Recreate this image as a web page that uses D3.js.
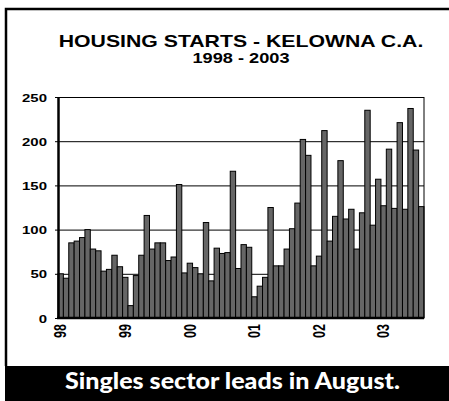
<!DOCTYPE html>
<html>
<head>
<meta charset="utf-8">
<script src="https://cdn.jsdelivr.net/npm/d3@7"></script>
<style>
  body { margin: 0; background: #fff; }
  svg { display: block; }
</style>
</head>
<body>
<div id="chart"></div>
<script>
// DATA ######################################################
const years = ["98", "99", "00", "01", "02", "03"];
const months = ["Jan","Feb","Mar","Apr","May","Jun","Jul","Aug","Sep","Oct","Nov","Dec"];
const starts1998 = [50, 45, 85, 87, 91, 100, 78, 76, 53, 55, 71, 58];
const starts1999 = [46, 14, 48, 71, 116, 78, 85, 85, 65, 69, 151, 51];
const starts2000 = [62, 57, 50, 108, 42, 79, 73, 74, 166, 56, 83, 80];
const starts2001 = [24, 36, 46, 125, 59, 59, 78, 101, 130, 202, 184, 59];
const starts2002 = [70, 212, 87, 115, 178, 112, 123, 78, 119, 235, 105, 157];
const starts2003 = [127, 191, 124, 221, 123, 237, 190, 126];
const yTicks = [0, 50, 100, 150, 200, 250];

const series = [starts1998, starts1999, starts2000, starts2001, starts2002, starts2003];
const data = [];
series.forEach((vals, i) => vals.forEach((v, j) => data.push({ key: years[i] + "-" + months[j], year: years[i], month: j, value: v })));

// CONSTANTS #################################################
const width = 449, height = 401;
const plot = { left: 58, right: 424, top: 97, bottom: 318 };
const sx = 1.3; // horizontal stretch of the original type

const svg = d3.select("#chart").append("svg")
    .attr("width", width)
    .attr("height", height);

// SCALES ====================================================
const xScale = d3.scaleBand()
    .domain(data.map(d => d.key))
    .range([plot.left, plot.right])
    .padding(0);

const yScale = d3.scaleLinear()
    .domain([0, 250])
    .range([plot.bottom, plot.top]);

// FRAME -----------------------------------------------------
svg.append("path")
    .attr("d", `M6,366 V9 H${width + 2}`)
    .attr("fill", "none")
    .attr("stroke", "#000")
    .attr("stroke-width", 2.5);

// GRID ------------------------------------------------------
svg.append("g")
    .attr("transform", `translate(${plot.left},0)`)
    .call(d3.axisLeft(yScale).tickValues(yTicks.slice(1)).tickSize(-(plot.right - plot.left)).tickFormat(""))
    .call(g => g.select(".domain").remove())
    .call(g => g.selectAll("line").attr("stroke", "#000").attr("stroke-width", 1));

// BARS ======================================================
svg.selectAll("rect.bar")
    .data(data, d => d.key)
    .join("rect")
    .attr("class", "bar")
    .attr("x", d => xScale(d.key))
    .attr("y", d => yScale(d.value))
    .attr("width", xScale.bandwidth())
    .attr("height", d => yScale(0) - yScale(d.value))
    .attr("fill", "#666")
    .attr("stroke", "#000")
    .attr("stroke-width", 1);

// right edge of plot
svg.append("line")
    .attr("x1", plot.right).attr("x2", plot.right)
    .attr("y1", yScale(250)).attr("y2", yScale(0))
    .attr("stroke", "#000").attr("stroke-width", 1);

// AXES ------------------------------------------------------
const yAxis = svg.append("g")
    .attr("transform", `translate(${plot.left},0)`)
    .call(d3.axisLeft(yScale).tickValues(yTicks).tickSize(3).tickSizeOuter(0));
yAxis.select(".domain").attr("stroke-width", 2.5);
yAxis.selectAll("line").attr("stroke-width", 1);
yAxis.selectAll("text")
    .attr("x", 0)
    .attr("dy", "0.35em")
    .attr("transform", `translate(-11,0) scale(${sx},1)`)
    .style("font-family", "Liberation Sans, Arial, sans-serif")
    .style("font-weight", "bold")
    .style("font-size", "11.5px")
    .attr("fill", "#000");

svg.append("line")
    .attr("x1", plot.left - 1).attr("x2", plot.right)
    .attr("y1", plot.bottom).attr("y2", plot.bottom)
    .attr("stroke", "#000").attr("stroke-width", 2.5);

// x labels at each January
svg.selectAll("text.xlab")
    .data(data.filter(d => d.month === 0))
    .join("text")
    .attr("class", "xlab")
    .attr("text-anchor", "end")
    .attr("dy", "0.35em")
    .attr("transform", d => `translate(${xScale(d.key) + xScale.bandwidth() / 2},${plot.bottom + 6}) scale(${sx},1) rotate(-90)`)
    .style("font-family", "Liberation Sans, Arial, sans-serif")
    .style("font-weight", "bold")
    .style("font-size", "12.5px")
    .text(d => d.year);

// TITLES ----------------------------------------------------
const cx = (plot.left + plot.right) / 2;
svg.append("text")
    .attr("text-anchor", "middle")
    .attr("transform", `translate(${cx},47) scale(1.25,1)`)
    .style("font-family", "Liberation Sans, Arial, sans-serif")
    .style("font-weight", "bold")
    .style("font-size", "17px")
    .text("HOUSING STARTS - KELOWNA C.A.");

svg.append("text")
    .attr("text-anchor", "middle")
    .attr("transform", `translate(${cx},63) scale(${sx},1)`)
    .style("font-family", "Liberation Sans, Arial, sans-serif")
    .style("font-weight", "bold")
    .style("font-size", "14px")
    .text("1998 - 2003");

// BANNER ----------------------------------------------------
svg.append("rect")
    .attr("x", 5).attr("y", 366)
    .attr("width", width - 5).attr("height", height - 366)
    .attr("fill", "#000");

svg.append("text")
    .attr("x", 65).attr("y", 389)
    .attr("textLength", 335)
    .attr("lengthAdjust", "spacingAndGlyphs")
    .style("font-family", "Lato, 'Open Sans', sans-serif")
    .style("font-weight", "900")
    .style("font-size", "22px")
    .attr("fill", "#fff")
    .text("Singles sector leads in August.");
</script>
</body>
</html>
